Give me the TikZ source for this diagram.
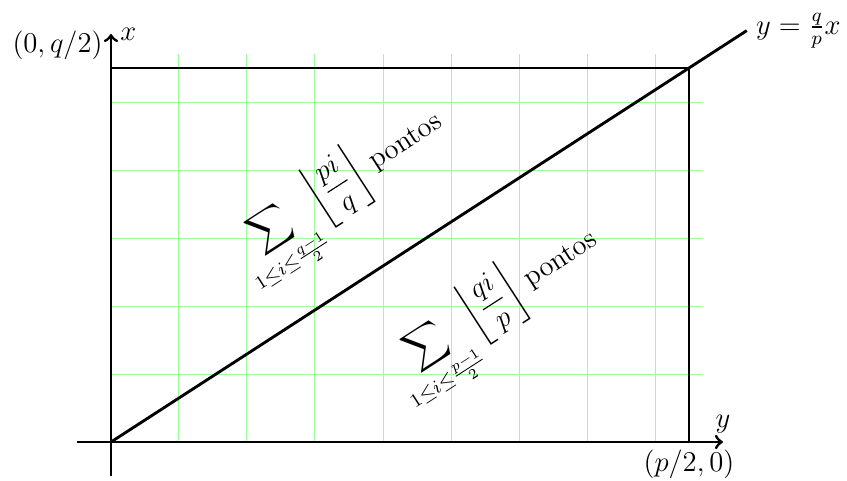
\documentclass[tikz,border=0pt]{standalone}
\usepackage{amsmath}
\begin{document}
\begin{tikzpicture}[font=\large]
    % Define colours
    \definecolor{gridColour}{HTML}{99FF99}
    \definecolor{borderColour}{HTML}{000000}

    % Define the corner (p/2,q/2), here p=17 and q=11
    \def\halfP{8.5}
    \def\halfQ{5.5}
    \def\slope{32.9}

    \useasboundingbox (-1.632,-0.559) rectangle (10.824,6.5);

    % Draw the grid
    \draw[step=1cm,gridColour,thin] (0,0) grid (\halfP+0.2,\halfQ+0.2);

    % Define the points
    \coordinate (O) at (0,0);
    \coordinate (P) at (\halfP,0);
    \coordinate (Q) at (0,\halfQ);
    \coordinate (R) at (\halfP,\halfQ);
    \coordinate (E) at (9.35,6.05);
    \coordinate (xl) at (-0.5,0);
    \coordinate (xr) at (9,0);
    \coordinate (yb) at (0,-0.5);
    \coordinate (yt) at (0,6);

    % Draw the axes
    \draw[line width=1.2pt,->] (xl) -- (xr) node[above] (ylabel) {$y$};
    \draw[line width=1.2pt,->] (yb) -- (yt) node[right] (xlabel) {$x$};

    % Draw the rectangle and the line y = qx/p
    \draw[draw=borderColour, line width=1.2pt] (Q) -- (R) -- (P);
    \draw[draw=borderColour, line width=1.2pt] (O) -- (E) node[right] (eq) {$y=\frac{q}{p}x$};

    % Label the corners
    \node[above left] (qlabel) at (Q) {$(0,q/2)$};
    \node[below] (plabel) at (P) {$(p/2,0)$};

    % Count the points on each side
    \node[rotate=\slope] (upper) at (3.42,3.63)
        {$\displaystyle\sum_{1\leq i\leq\frac{q-1}{2}}\left\lfloor\frac{pi}{q}\right\rfloor$ pontos};
    \node[rotate=\slope] (lower) at (5.7,1.9)
        {$\displaystyle\sum_{1\leq i\leq\frac{p-1}{2}}\left\lfloor\frac{qi}{p}\right\rfloor$ pontos};

\end{tikzpicture}
\end{document}
